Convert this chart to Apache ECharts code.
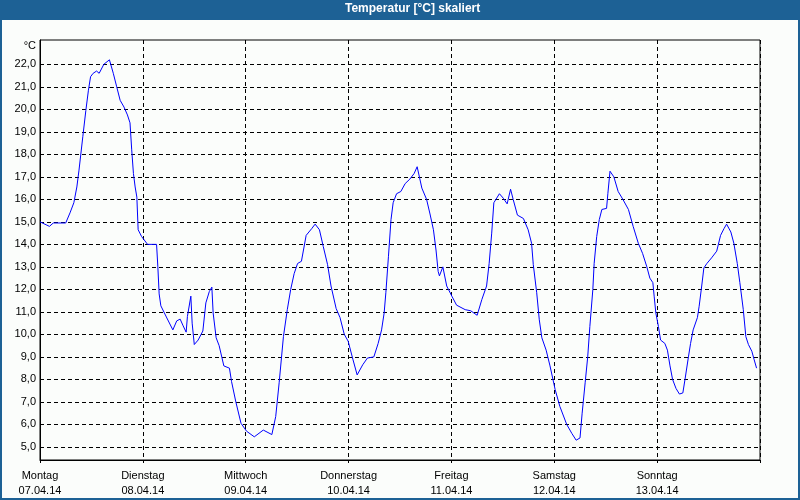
<!DOCTYPE html>
<html>
<head>
<meta charset="utf-8">
<script src="https://cdn.jsdelivr.net/npm/echarts@6/dist/echarts.min.js"></script>
<style>
html,body{margin:0;padding:0;background:#fbfdfb;}
#c{position:absolute;left:0;top:0;width:800px;height:500px;}
#frame{position:absolute;left:0;top:0;width:800px;height:500px;box-sizing:border-box;border:2px solid #1d6195;border-top:none;pointer-events:none;}
</style>
</head>
<body>
<div id="c"></div>
<div id="frame"></div>
<script>
// Hours since Monday 07.04.14 00:00
const hours = [0,2.2,3.1,6.0,7.0,7.9,8.6,9.1,10.0,10.7,11.3,11.8,12.4,13.2,13.8,14.9,16.2,17.1,17.9,18.7,19.6,20.4,21.0,21.4,21.8,22.2,22.6,22.9,23.7,25.1,27.2,27.5,27.8,28.2,29.6,31.0,31.9,32.7,33.4,34.1,34.4,35.2,35.5,36.0,36.9,38.0,38.7,39.5,40.1,40.4,41.1,41.8,42.9,44.2,44.7,45.7,46.9,48.2,50.0,52.1,54.1,55.0,55.8,56.8,57.7,58.5,59.3,60.1,61.0,62.1,63.4,64.2,65.2,66.1,67.1,67.9,69.1,70.0,71.0,71.9,73.0,74.0,75.3,76.4,77.9,78.9,79.7,80.3,80.7,81.3,81.9,82.4,83.2,84.2,85.2,86.3,87.3,88.0,89.1,90.2,91.0,91.8,92.4,92.9,93.2,94.0,94.9,96.1,97.2,99.2,100.5,102.0,103.1,104.2,104.8,105.4,105.9,107.2,108.1,109.0,109.8,110.4,111.4,112.8,113.9,114.7,115.1,115.9,116.5,117.1,118.1,119.0,120.2,121.3,122.9,124.1,125.1,126.0,126.5,127.2,127.8,128.3,129.0,129.3,129.9,130.5,131.1,132.2,132.5,133.0,133.9,134.9,136.0,137.3,138.4,139.6,140.6,141.6,142.3,143.0,143.3,143.7,144.3,144.8,145.8,146.4,147.0,147.6,148.4,149.2,150.0,150.5,151.3,151.8,152.4,153.4,153.8,154.4,154.9,155.6,156.7,157.9,158.8,159.6,160.2,161.2,161.9,162.7,163.3,164.1,164.7,165.3,166.1,166.6,167.2];
const temps = [15.0,14.8,14.95,14.95,15.4,15.85,16.55,17.3,18.8,19.95,20.85,21.45,21.6,21.7,21.6,22.0,22.2,21.6,21.0,20.4,20.1,19.75,19.4,18.2,17.15,16.55,16.1,14.65,14.35,14.0,14.0,13.0,11.8,11.27,10.73,10.2,10.6,10.68,10.38,10.1,10.8,11.7,10.5,9.55,9.75,10.15,11.4,11.9,12.1,10.95,9.85,9.5,8.6,8.5,7.9,7.0,6.05,5.7,5.45,5.75,5.55,6.35,7.85,9.9,11.1,12.0,12.7,13.15,13.25,14.4,14.7,14.9,14.65,13.9,13.1,12.15,11.15,10.75,10.0,9.7,8.9,8.2,8.65,8.95,9.0,9.6,10.2,10.95,11.85,13.45,15.1,15.85,16.25,16.35,16.7,16.9,17.15,17.45,16.5,16.0,15.35,14.65,13.75,12.8,12.6,13.0,12.15,11.7,11.3,11.1,11.05,10.85,11.55,12.15,13.15,14.5,15.85,16.25,16.05,15.8,16.45,16.0,15.3,15.15,14.65,14.05,13.1,11.85,10.65,9.85,9.3,8.6,7.55,6.8,6.0,5.6,5.3,5.4,6.5,7.85,9.0,10.35,12.0,13.15,14.35,15.1,15.55,15.6,16.25,17.25,17.0,16.35,16.0,15.55,14.8,14.05,13.6,13.0,12.5,12.3,11.7,10.95,10.35,9.75,9.6,9.3,8.6,8.0,7.6,7.35,7.4,8.0,9.0,9.6,10.2,10.75,11.25,12.15,12.95,13.15,13.4,13.7,14.4,14.7,14.9,14.55,14.05,13.15,12.3,11.1,9.9,9.55,9.25,8.9,8.5];
const dayTicks = [0,24,48,72,96,120,144];
const dayNames = ['Montag','Dienstag','Mittwoch','Donnerstag','Freitag','Samstag','Sonntag'];
const dayDates = ['07.04.14','08.04.14','09.04.14','10.04.14','11.04.14','12.04.14','13.04.14'];
const yTicks = [5,6,7,8,9,10,11,12,13,14,15,16,17,18,19,20,21,22];
const yMin = 4.42, yMax = 23.08;
const titleText = 'Temperatur [°C] skaliert';
const unitText = '°C';

const font = '"Liberation Sans", Arial, sans-serif';
const chart = echarts.init(document.getElementById('c'), null, {renderer:'canvas'});
const seriesData = hours.map((h,i)=>[h,temps[i]]);
chart.setOption({
  animation:false,
  backgroundColor:'#fbfdfb',
  graphic:[{type:'rect',left:0,top:0,shape:{width:800,height:20},style:{fill:'#1d6195'},z:-1}],
  title:{text:titleText,left:345,top:3,padding:0,textStyle:{color:'#fff',fontFamily:font,fontWeight:'bold',fontSize:12}},
  grid:{left:40,top:40,width:720,height:420,show:true,borderColor:'#000',borderWidth:1,backgroundColor:'transparent'},
  xAxis:{type:'value',min:0,max:168,interval:24,
    axisLine:{show:true,lineStyle:{color:'#000',width:1}},
    axisTick:{show:true,length:3,lineStyle:{color:'#000'}},
    splitLine:{show:true,lineStyle:{color:'#000',type:[4,3],width:1}},
    axisLabel:{color:'#000',fontFamily:font,fontSize:11,lineHeight:15,margin:8,
      formatter:function(v){const i=dayTicks.indexOf(v);return i>=0?dayNames[i]+'\n'+dayDates[i]:'';}}
  },
  yAxis:{type:'value',min:yMin,max:yMax,
    name:unitText,nameLocation:'end',nameGap:-6,
    nameTextStyle:{color:'#000',fontFamily:font,fontSize:11,align:'right',verticalAlign:'middle',padding:[0,4,0,0]},
    axisLine:{show:true,lineStyle:{color:'#000',width:1}},
    axisTick:{show:false,customValues:yTicks},
    splitLine:{show:true,lineStyle:{color:'#000',type:[4,3],width:1}},
    axisLabel:{customValues:yTicks,color:'#000',fontFamily:font,fontSize:11,margin:4,
      formatter:function(v){return v.toFixed(1).replace('.',',');}}
  },
  series:[{type:'line',data:seriesData,showSymbol:false,symbol:'none',smooth:false,
    lineStyle:{color:'#0000ff',width:1},clip:true}]
});
</script>
</body>
</html>
